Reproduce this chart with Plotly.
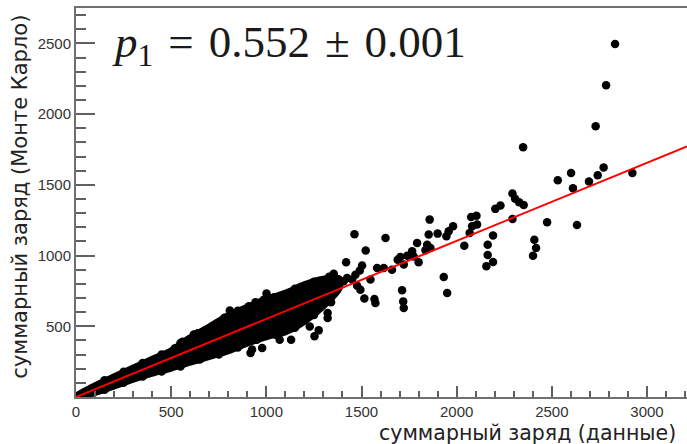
import plotly.graph_objects as go

# fit result
p1 = 0.552
p1_err = 0.001

# dense core of the scatter (envelope of marker centres)
band_x = [0, 50, 100, 200, 300, 400, 500, 600, 700, 800, 900, 1000, 1100, 1200, 1300, 1380]
band_hi = [3, 40, 76, 138, 200, 262, 322, 415, 490, 570, 630, 685, 730, 790, 830, 835]
band_lo = [0, 16, 36, 82, 130, 172, 208, 250, 290, 330, 385, 430, 465, 540, 650, 770]

# individual points outside the dense core
pts_x = [2832, 2785, 2730, 2772, 2741, 2695, 2601, 2531, 2611, 2923, 2475, 2632, 2349,
         2293, 2307, 2328, 2352, 2293, 2408, 2417, 2401, 2230, 2203, 2191, 2163, 2163,
         2191, 2156, 2076, 2104, 2081, 2107, 2068, 2040, 1981, 1958, 1946, 1900, 1858,
         1853, 1792, 1845, 1862, 1836, 1766, 1740, 1774, 1704, 1690, 1722, 1800, 1626,
         1617, 1932, 1950, 1713, 1719, 1722, 1463, 1522, 1419, 1503, 1491, 1582, 1354,
         1451, 1372, 1406, 1477, 1494, 1515, 1568, 1573, 1301, 1267, 1211, 1232, 1322,
         1322, 1228, 1275, 1253, 1130, 1070, 1001, 1074, 1123, 908, 943, 808, 794, 917,
         925, 978, 654, 619, 549, 549, 1468, 1424, 1660, 1547, 986,
         150, 250, 350, 450, 520, 560, 640, 680, 740, 780, 850, 960, 1040, 1150, 1250, 1330,
         150, 250, 350, 450, 550, 650, 750, 850, 950, 1050, 1150, 1250, 1340]
pts_y = [2496, 2204, 1914, 1622, 1567, 1523, 1584, 1532, 1475, 1584, 1235, 1216, 1765,
         1438, 1402, 1376, 1358, 1259, 1112, 1054, 999, 1353, 1330, 1141, 1077, 1004,
         955, 924, 1273, 1282, 1207, 1219, 1160, 1070, 1207, 1171, 1136, 1155, 1254,
         1148, 1089, 1077, 1054, 1037, 1030, 999, 994, 990, 971, 936, 952, 1124,
         912, 849, 735, 754, 676, 629, 1150, 1035, 952, 929, 895, 912, 872,
         830, 830, 818, 787, 759, 697, 693, 665, 806, 764, 778, 711, 594,
         559, 499, 471, 429, 405, 405, 731, 688, 711, 641, 669, 612, 559, 311,
         335, 347, 453, 441, 382, 216, 865, 842, 900, 830, 688,
         118, 178, 240, 300, 345, 390, 450, 470, 520, 560, 610, 665, 705, 765, 815, 850,
         52, 100, 145, 180, 225, 265, 300, 350, 405, 440, 490, 580, 670]

x_range = [0, 3210]
y_range = [0, 2750]
x_tick_vals = [0, 500, 1000, 1500, 2000, 2500, 3000]
y_tick_vals = [500, 1000, 1500, 2000, 2500]

fit_x = [0, 3210]
fit_y = [p1 * v for v in fit_x]

x_title = "суммарный заряд (данные)"
y_title = "суммарный заряд (Монте Карло)"

fig = go.Figure()
fig.add_trace(go.Scatter(
    x=band_x + band_x[::-1], y=band_hi + band_lo[::-1],
    mode="lines", fill="toself", fillcolor="black",
    line=dict(color="black", width=8, shape="spline", smoothing=0.7),
    hoverinfo="skip", showlegend=False))
fig.add_trace(go.Scatter(
    x=pts_x, y=pts_y, mode="markers",
    marker=dict(color="black", size=8.5, line=dict(width=0)), showlegend=False))
fig.add_trace(go.Scatter(
    x=fit_x, y=fit_y, mode="lines",
    line=dict(color="#ff0000", width=2), showlegend=False))

axis_common = dict(
    showgrid=False, zeroline=False, showline=True,
    linecolor="#707070", linewidth=2,
    ticks="inside", tickcolor="#606060", tickwidth=1.5,
    tickfont=dict(family="Liberation Sans", size=15, color="#333333"),
)

fig.update_xaxes(
    range=x_range, tickvals=x_tick_vals, ticklen=11, mirror=True,
    minor=dict(dtick=100, tick0=0, ticks="inside", ticklen=6,
               tickcolor="#606060", tickwidth=1.5),
    **axis_common)
fig.update_yaxes(
    range=y_range, tickvals=y_tick_vals, ticklen=19, mirror=False,
    minor=dict(dtick=100, tick0=0, ticks="inside", ticklen=10,
               tickcolor="#606060", tickwidth=1.5),
    **axis_common)

eq_text = f"<i>p</i><sub>1</sub> \u200a= \u200a{p1:.3f} \u200a± \u200a{p1_err:.3f}"

fig.update_layout(
    width=687, height=444,
    margin=dict(l=76, r=0, t=8, b=47),
    paper_bgcolor="white", plot_bgcolor="white",
    annotations=[
        dict(text=eq_text,
             xref="paper", yref="paper", x=0.055, y=0.905,
             xanchor="left", yanchor="middle", showarrow=False,
             font=dict(family="Liberation Serif", size=45, color="#1a1a1a")),
        dict(text=x_title, xref="paper", yref="paper", x=0.9853, y=-0.092,
             xanchor="right", yanchor="middle", showarrow=False,
             font=dict(family="DejaVu Sans", size=20.5, color="#222222")),
        dict(text=y_title, xref="paper", yref="paper", x=-0.0917, y=0.515,
             xanchor="center", yanchor="middle", textangle=-90, showarrow=False,
             font=dict(family="DejaVu Sans", size=21, color="#222222")),
    ],
)

fig.write_html("out.html")
